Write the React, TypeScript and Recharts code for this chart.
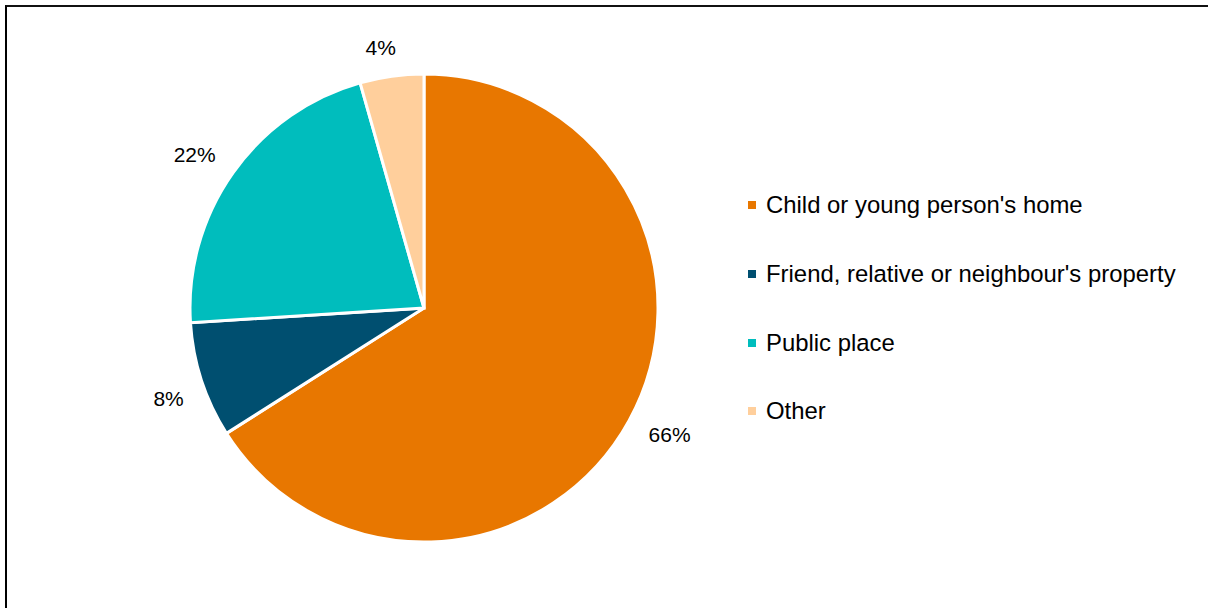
import React from "react";
import { PieChart, Pie, Cell, Legend } from "recharts";

const categories = [
  "Child or young person's home",
  "Friend, relative or neighbour's property",
  "Public place",
  "Other",
];
const values = [66, 8, 21.6, 4.4];
const colors = ["#E87700", "#004F70", "#00BDBD", "#FFCF9C"];

const data = categories.map((name, i) => ({ name, value: values[i] }));

const FONT = "'Liberation Sans', Arial, Helvetica, sans-serif";
const RAD = Math.PI / 180;
const LABEL_SIZE = 21;

const renderLabel = (props: any) => {
  const { cx, cy, midAngle, outerRadius, value } = props;
  const text = `${Math.round(value)}%`;
  const w = text.length === 2 ? 1.445 * LABEL_SIZE : 2.0 * LABEL_SIZE;
  const halfW = w / 2;
  const halfH = 8;
  const a = midAngle + 1.5;
  const c = Math.cos(-a * RAD);
  const s = Math.sin(-a * RAD);
  const R = outerRadius + 20 + halfW * Math.abs(c) + halfH * Math.abs(s);
  const x = cx + R * c;
  const y = cy + R * s;
  return (
    <text
      x={x}
      y={y}
      textAnchor="middle"
      dominantBaseline="central"
      fill="#000"
      fontSize={LABEL_SIZE}
      fontFamily={FONT}
    >
      {text}
    </text>
  );
};

const renderLegend = () => {
  return (
    <div style={{ fontFamily: FONT }}>
      {categories.map((name, i) => (
        <div
          key={name}
          style={{
            display: "flex",
            alignItems: "center",
            height: 68.7,
            fontSize: 23.9,
            color: "#000",
            whiteSpace: "nowrap",
          }}
        >
          <span
            style={{
              display: "inline-block",
              width: 8,
              height: 8,
              background: colors[i],
              marginRight: 10,
            }}
          />
          <span>{name}</span>
        </div>
      ))}
    </div>
  );
};

export default function App() {
  return (
    <div
      style={{
        position: "absolute",
        left: 0,
        top: 0,
        width: 1208,
        height: 608,
        overflow: "hidden",
        background: "#fff",
      }}
    >
      <div
        style={{
          position: "absolute",
          left: 5,
          top: 5,
          width: 1300,
          height: 700,
          borderLeft: "2px solid #000",
          borderTop: "2px solid #111",
          boxSizing: "border-box",
        }}
      />
      <div style={{ position: "absolute", left: 0, top: 0 }}>
        <PieChart
          width={1208}
          height={608}
          margin={{ top: 0, right: 0, bottom: 0, left: 0 }}
        >
          <Pie
            data={data}
            dataKey="value"
            nameKey="name"
            cx={424}
            cy={308}
            outerRadius={234}
            innerRadius={0}
            startAngle={90}
            endAngle={-270}
            stroke="#fff"
            strokeWidth={3}
            label={renderLabel}
            labelLine={false}
            isAnimationActive={false}
          >
            {data.map((d, i) => (
              <Cell key={d.name} fill={colors[i]} />
            ))}
          </Pie>
          <Legend
            layout="vertical"
            content={renderLegend}
            wrapperStyle={{ left: 748, top: 171, width: 450 }}
          />
        </PieChart>
      </div>
    </div>
  );
}
